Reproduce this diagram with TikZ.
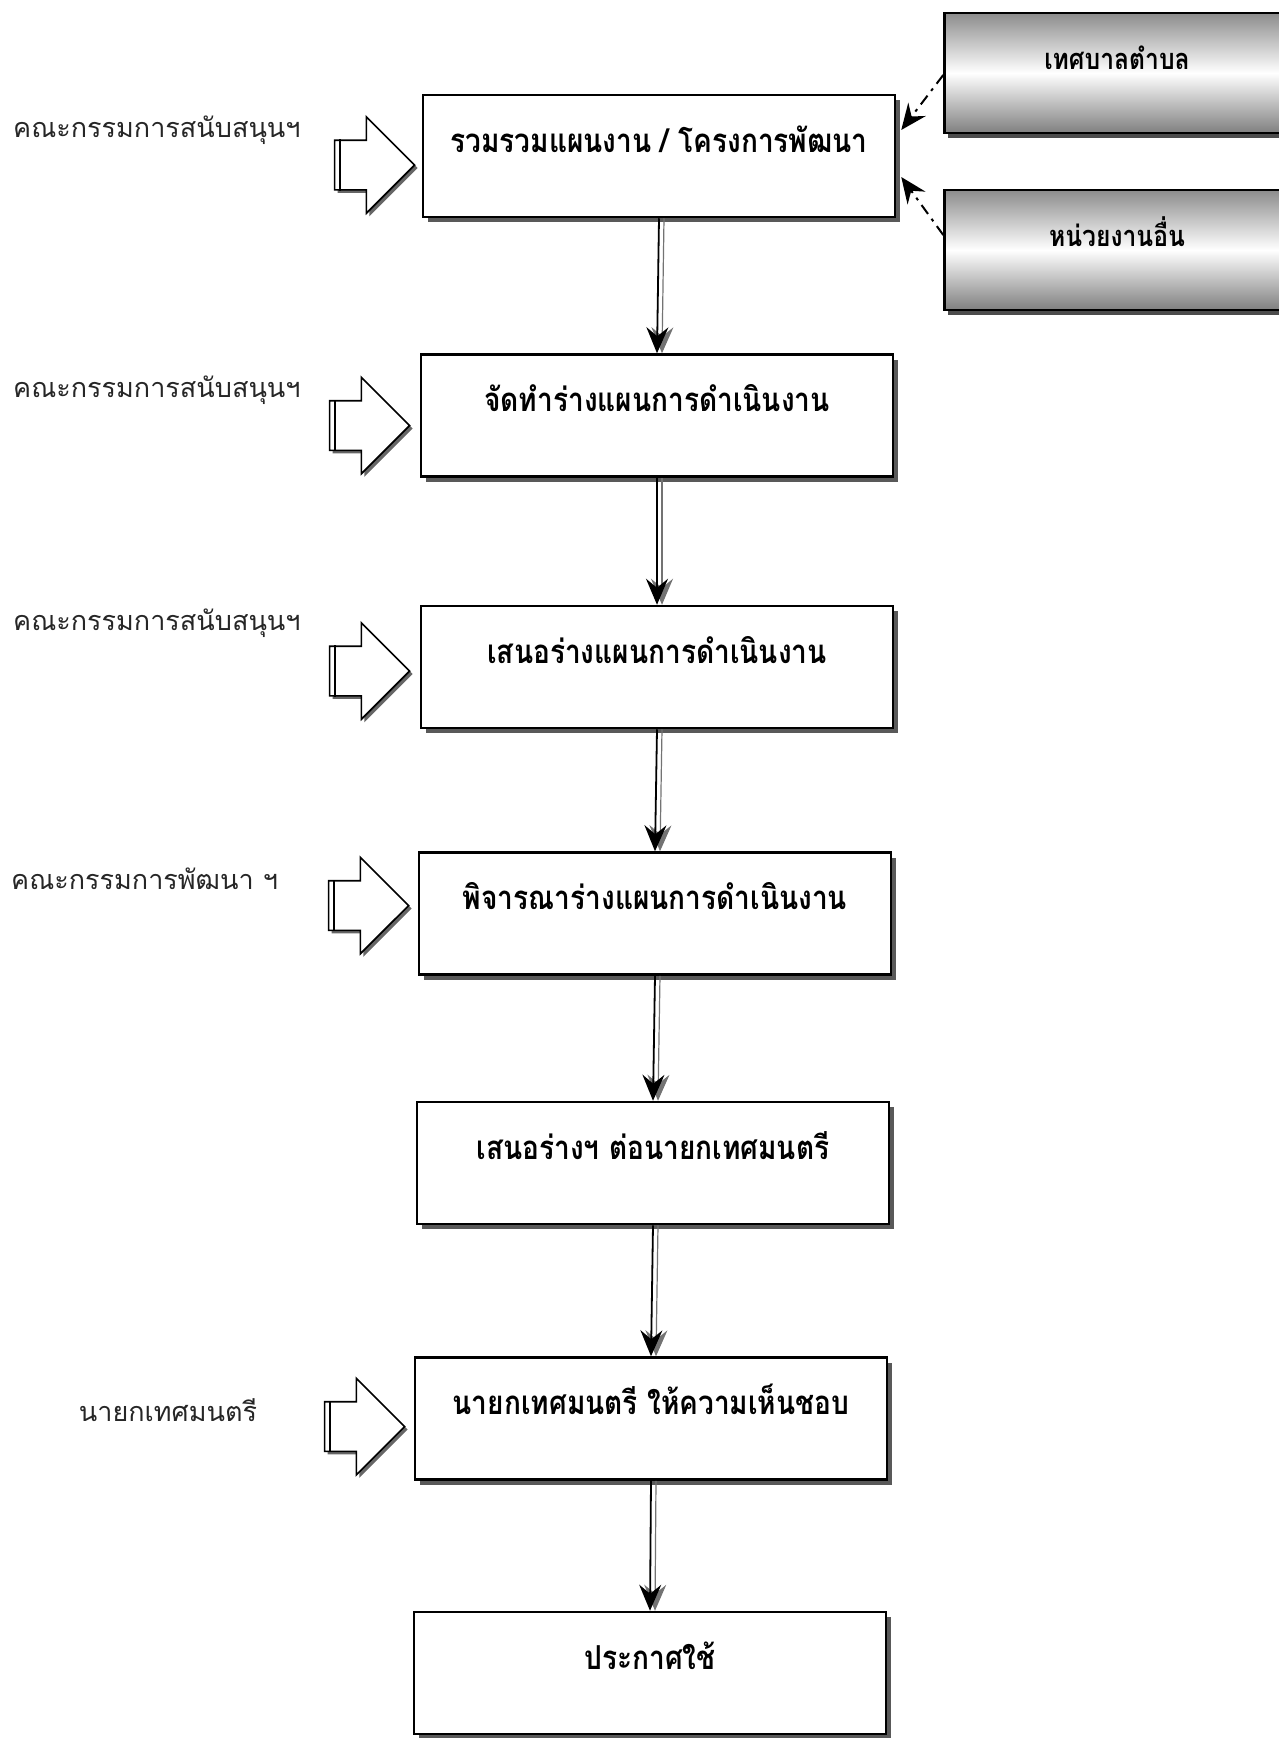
\documentclass[tikz,border=0pt]{standalone}
\usepackage{fontspec}
\usetikzlibrary{positioning,arrows.meta,shapes.arrows,shadows}
\newfontfamily\thaifont[Script=Thai]{Loma}
\newfontfamily\thaitall[Script=Thai,FakeStretch=0.85]{Loma}
\tikzset{>={Stealth[length=26pt,width=22pt,inset=9pt]}}
\tikzset{
  stepbox/.style={draw, line width=2.5pt, fill=white,
    minimum width=472pt, minimum height=122pt,
    text height=26pt, text depth=34pt,
    font=\thaitall\bfseries\fontsize{33}{38}\selectfont,
    drop shadow={shadow xshift=5pt, shadow yshift=-5pt, opacity=1, fill=black!65}},
  unitbox/.style={draw, line width=2.5pt,
    top color=black!45, bottom color=black!50, middle color=white,
    minimum width=345pt, minimum height=120pt,
    text height=24pt, text depth=32pt,
    font=\thaitall\bfseries\fontsize{29}{33}\selectfont,
    drop shadow={shadow xshift=3pt, shadow yshift=-5pt, opacity=1, fill=black!70}},
  inarrow/.style={single arrow, draw, line width=1.6pt, fill=white,
    inner xsep=0pt, inner ysep=24pt, text height=0pt, text depth=0pt,
    minimum height=80pt, minimum width=95pt, single arrow head extend=23.5pt,
    drop shadow={shadow xshift=3pt, shadow yshift=-3pt, opacity=1, fill=black!60}},
  who/.style={font=\thaifont\fontsize{27}{32}\selectfont, text=black!85, inner sep=0pt},
  flow/.style={->, line width=1.8pt,
    preaction={draw=black!55, line width=1.2pt, transform canvas={xshift=5pt}}},
  feed/.style={->, line width=2pt, dash pattern=on 11pt off 6pt on 3pt off 6pt}
}
\begin{document}
\begin{tikzpicture}[x=1pt,y=-1pt]
	\useasboundingbox (0,0) rectangle (1278,1738);
	
	% main steps
	\node(b1) [stepbox] at (659,156) {รวมรวมแผนงาน / โครงการพัฒนา};
	\node(b2) [stepbox, below=135pt of b1, xshift=-2pt] {จัดทำร่างแผนการดำเนินงาน};
	\node(b3) [stepbox, below=127pt of b2] {เสนอร่างแผนการดำเนินงาน};
	\node(b4) [stepbox, below=122pt of b3, xshift=-2pt] {พิจารณาร่างแผนการดำเนินงาน};
	\node(b5) [stepbox, below=125pt of b4, xshift=-2pt] {เสนอร่างฯ ต่อนายกเทศมนตรี};
	\node(b6) [stepbox, below=131pt of b5, xshift=-2pt] {นายกเทศมนตรี ให้ความเห็นชอบ};
	\node(b7) [stepbox, below=130pt of b6, xshift=-1pt] {ประกาศใช้};
	
	\draw[flow] (b1.south) -- (b2.north);
	\draw[flow] (b2.south) -- (b3.north);
	\draw[flow] (b3.south) -- (b4.north);
	\draw[flow] (b4.south) -- (b5.north);
	\draw[flow] (b5.south) -- (b6.north);
	\draw[flow] (b6.south) -- (b7.north);
	
	% units on the right
	\node(tb) [unitbox] at (1117,73) {เทศบาลตำบล};
	\node(ou) [unitbox] at (1117,250) {หน่วยงานอื่น};
	\draw[feed] ([yshift=-2pt]tb.west) -- ([yshift=26pt,xshift=5pt]b1.east);
	\draw[feed] ([yshift=15pt]ou.west) -- ([yshift=-21pt,xshift=5pt]b1.east);
	
	% who does it
	\node(a1) [inarrow, left=6pt of b1, yshift=-9pt] {};
	\node(a2) [inarrow, left=9pt of b2, yshift=-10pt] {};
	\node(a3) [inarrow, left=9pt of b3, yshift=-4pt] {};
	\node(a4) [inarrow, left=8pt of b4, yshift=8pt] {};
	\node(a6) [inarrow, left=8pt of b6, yshift=-8pt] {};
	\foreach \a in {a1,a2,a3,a4,a6}
		\draw[line width=1.6pt] ([xshift=6pt]\a.before tail) -- ([xshift=6pt]\a.after tail);
	
	\node(w1) [who, anchor=west] at (13,130) {คณะกรรมการสนับสนุนฯ};
	\node(w2) [who, anchor=west] at (13,390) {คณะกรรมการสนับสนุนฯ};
	\node(w3) [who, anchor=west] at (13,623) {คณะกรรมการสนับสนุนฯ};
	\node(w4) [who, anchor=west] at (11,879) {คณะกรรมการพัฒนา ฯ};
	\node(w6) [who] at (168,1410) {นายกเทศมนตรี};
\end{tikzpicture}
\end{document}
